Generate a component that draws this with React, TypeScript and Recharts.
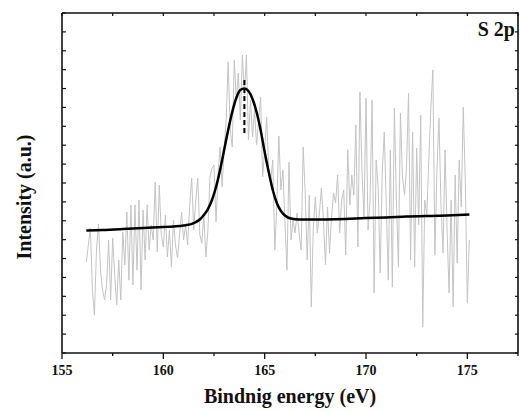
import { ComposedChart, Line, XAxis, YAxis } from "recharts";

// S 2p spectrum, raw counts sampled every 0.1 eV from 156.2 eV
const rawStart = 156.2;
const rawStep = 0.1;
const rawIntensity = [
  482, 572, 662, 334, 201, 545, 683, 439, 334, 281, 360, 598, 281, 609, 413, 254,
  492, 281, 641, 466, 746, 386, 784, 360, 784, 439, 810, 334, 757, 492, 784, 545,
  678, 598, 905, 535, 889, 625, 561, 731, 508, 651, 455, 704, 572, 503, 625, 746,
  598, 678, 572, 784, 926, 651, 810, 926, 625, 582, 731, 508, 651, 932, 979,
  995, 694, 942, 1091, 879, 1075, 1234, 1541, 1181, 1091, 1551, 1339, 1482, 1234, 1578, 1366,
  1578, 1128, 1339, 1144, 1286, 1101, 1234, 1355, 932, 1075, 1249, 969, 916, 1022, 545, 784,
  1149, 863, 969, 694, 439, 1011, 598, 704, 635, 741, 635, 545, 1091, 847, 492, 836,
  244, 667, 826, 635, 741, 874, 704, 466, 773, 529, 720, 847, 794, 942, 635,
  810, 863, 519, 1075, 784, 942, 836, 1207, 561, 1382, 969, 715, 1350, 651, 810, 1339,
  318, 1022, 879, 424, 953, 1170, 784, 386, 1075, 349, 1297, 810, 455, 1271, 932, 836,
  985, 1376, 492, 1170, 455, 1085, 678, 1260, 138, 810, 731, 1022, 1297, 1498, 519, 969,
  1244, 784, 529, 1075, 651, 318, 810, 244, 942, 476, 1022, 773, 1302, 905, 265, 598,
];

// fitted envelope (peak + background)
const fitEnergy = [
  156.2, 157, 158, 159, 160, 160.5, 161, 161.5, 161.8, 162, 162.2, 162.4, 162.6, 162.8,
  163, 163.2, 163.4, 163.6, 163.8, 164, 164.2, 164.4, 164.6, 164.8, 165, 165.2, 165.4,
  165.6, 165.8, 166, 166.3, 166.7, 167, 168, 169, 170, 171, 172, 173, 174, 175.1,
];
const fitIntensity = [
  649, 651, 656, 662, 667, 670, 675, 688, 707, 731, 762, 810, 879, 969,
  1075, 1181, 1276, 1350, 1392, 1400, 1387, 1345, 1276, 1181, 1064, 958, 863,
  794, 752, 728, 712, 707, 707, 707, 709, 715, 717, 723, 725, 728, 733,
];

// dashed marker at the peak position
const peakEnergy = [164, 164];
const peakIntensity = [1165, 1445];

const xMin = 155;
const xMax = 177.5;
const yMin = 0;
const yMax = 1800;
const xTicks = [155, 157.5, 160, 162.5, 165, 167.5, 170, 172.5, 175, 177.5];
const yTicks = [
  0, 100, 200, 300, 400, 500, 600, 700, 800, 900, 1000, 1100, 1200, 1300, 1400, 1500,
  1600, 1700, 1800,
];

const rawData = rawIntensity.map((v, i) => ({ e: +(rawStart + i * rawStep).toFixed(1), v }));
const fitData = fitEnergy.map((e, i) => ({ e, v: fitIntensity[i] }));
const peakData = peakEnergy.map((e, i) => ({ e, v: peakIntensity[i] }));

// plot box (margins + axis sizes below)
const W = 520;
const H = 412;
const LEFT = 62;
const TOP = 13;
const RIGHT = 518;
const BOTTOM = 353;
const fx = (v: number) => LEFT + ((v - xMin) / (xMax - xMin)) * (RIGHT - LEFT);
const fy = (v: number) => BOTTOM - ((v - yMin) / (yMax - yMin)) * (BOTTOM - TOP);

const FONT = "'Liberation Serif', 'Times New Roman', serif";
const INK = "#111";

const BottomTick = (props: any) => {
  const { x, y, payload } = props;
  const major = payload.value % 5 === 0;
  return (
    <g>
      <line x1={x} x2={x} y1={y} y2={y + (major ? 6 : 3)} stroke={INK} strokeWidth={1.3} />
      {major && (
        <text x={x} y={y + 22} textAnchor="middle" fontFamily={FONT} fontWeight="bold" fontSize={14} fill={INK}>
          {payload.value}
        </text>
      )}
    </g>
  );
};

const LeftTick = (props: any) => {
  const { x, y } = props;
  return <line x1={x} x2={x + 4} y1={y} y2={y} stroke={INK} strokeWidth={1.2} />;
};

export default function App() {
  return (
    <div style={{ position: "fixed", left: 0, top: 0, width: W, height: H, overflow: "hidden", background: "#fff" }}>
      <ComposedChart width={W} height={H} margin={{ top: TOP, right: W - RIGHT, bottom: 0, left: 0 }}>
        <XAxis
          dataKey="e"
          type="number"
          domain={[xMin, xMax]}
          ticks={xTicks}
          interval={0}
          height={H - BOTTOM}
          tickSize={0}
          tickMargin={0}
          tickLine={false}
          tick={BottomTick}
          axisLine={{ stroke: INK, strokeWidth: 1.6 }}
          allowDataOverflow
        />
        <YAxis
          type="number"
          domain={[yMin, yMax]}
          ticks={yTicks}
          interval={0}
          width={LEFT}
          tickSize={0}
          tickMargin={0}
          tickLine={false}
          tick={LeftTick}
          axisLine={{ stroke: INK, strokeWidth: 1.6 }}
          allowDataOverflow
        />
        <Line
          data={rawData}
          dataKey="v"
          type="linear"
          stroke="#c4c4c4"
          strokeWidth={1}
          dot={false}
          isAnimationActive={false}
        />
        <Line
          data={fitData}
          dataKey="v"
          type="monotone"
          stroke="#000"
          strokeWidth={2.5}
          dot={false}
          isAnimationActive={false}
        />
        <Line
          data={peakData}
          dataKey="v"
          type="linear"
          stroke="#000"
          strokeWidth={2}
          strokeDasharray="5 3"
          dot={false}
          isAnimationActive={false}
        />
      </ComposedChart>
      {/* mirrored frame (top / right) and titles */}
      <svg width={W} height={H} style={{ position: "absolute", left: 0, top: 0, pointerEvents: "none" }}>
        <path d={`M${LEFT} ${TOP} H${RIGHT} V${BOTTOM}`} fill="none" stroke={INK} strokeWidth={1.6} />
        {xTicks.map((t) => (
          <line key={"tx" + t} x1={fx(t)} x2={fx(t)} y1={TOP} y2={TOP + 3} stroke={INK} strokeWidth={1.2} />
        ))}
        {yTicks.map((t) => (
          <line key={"ry" + t} x1={RIGHT - 3} x2={RIGHT} y1={fy(t)} y2={fy(t)} stroke={INK} strokeWidth={1.2} />
        ))}
        <text x={515} y={36} textAnchor="end" fontFamily={FONT} fontWeight="bold" fontSize={20} fill={INK}>
          S 2p
        </text>
        <text x={290} y={403} textAnchor="middle" fontFamily={FONT} fontWeight="bold" fontSize={20} fill={INK}>
          Bindnig energy (eV)
        </text>
        <text
          x={31}
          y={197}
          textAnchor="middle"
          transform="rotate(-90 31 197)"
          fontFamily={FONT}
          fontWeight="bold"
          fontSize={20}
          fill={INK}
        >
          Intensity (a.u.)
        </text>
      </svg>
    </div>
  );
}
